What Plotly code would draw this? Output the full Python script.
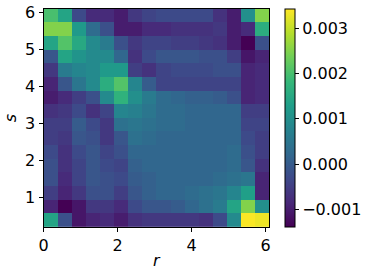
import plotly.graph_objects as go

W, H = 369, 275
row01 = [0.0014,-0.0002,-0.0011,-0.0009,-0.0008,-0.0010,-0.0007,-0.0006,-0.0006,-0.0006,-0.0006,-0.0007,-0.0003,0.0009,0.0034,0.0033]
row02 = [-0.0009,-0.00139,-0.0011,-0.0006,-0.0006,-0.0008,-0.0003,-0.0001,-0.0001,0.0,0.0002,0.0004,0.0006,0.0014,0.0025,0.0010]
row03 = [-0.0005,-0.0009,-0.0006,-0.0002,-0.0002,-0.0005,-0.0001,0.0001,0.0002,0.0002,0.0003,0.0004,0.0005,0.0008,0.0013,-0.0009]
row04 = [-0.0002,-0.0008,-0.0004,-0.0001,-0.0002,-0.0003,0.0,0.0001,0.0002,0.0002,0.0002,0.0002,0.0003,0.0004,0.0005,-0.0009]
row05 = [-0.0002,-0.0007,-0.0004,-0.0001,-0.0003,-0.0004,0.0001,0.0002,0.0002,0.0002,0.0002,0.0002,0.0002,0.0003,-0.0001,-0.0007]
row06 = [-0.0003,-0.0007,-0.0003,-0.0001,-0.0004,-0.0002,0.0002,0.0002,0.0002,0.0002,0.0002,0.0002,0.0002,0.0003,-0.0002,-0.0005]
row07 = [-0.0005,-0.0006,-0.0001,-0.0002,-0.0006,-0.0001,0.0004,0.0003,0.0002,0.0002,0.0002,0.0002,0.0002,0.0002,-0.0003,-0.0005]
row08 = [-0.0005,-0.0005,0.0,-0.0003,-0.0006,0.0004,0.0005,0.0004,0.0003,0.0003,0.0002,0.0002,0.0002,0.0002,-0.0004,-0.0004]
row09 = [-0.0007,-0.0006,-0.0003,-0.0007,-0.0004,0.0008,0.0007,0.0005,0.0003,0.0003,0.0002,0.0002,0.0002,0.0002,-0.0005,-0.0005]
row10 = [-0.0010,-0.0008,-0.0005,-0.0002,0.0009,0.0017,0.0010,0.0006,0.0003,0.0002,0.0001,0.0001,0.0,-0.0002,-0.0009,-0.0008]
row11 = [-0.0009,-0.0001,0.0005,0.0009,0.0016,0.0021,0.0008,0.0,-0.0004,-0.0004,-0.0004,-0.0004,-0.0004,-0.0004,-0.0009,-0.0008]
row12 = [-0.0006,0.0006,0.0008,0.0009,0.0012,0.0012,-0.0005,-0.0007,-0.0004,-0.0003,-0.0003,-0.0003,-0.0002,-0.0002,-0.0009,-0.0008]
row13 = [-0.0001,0.0014,0.0011,0.0009,0.0009,0.0002,-0.0007,-0.0003,-0.0001,-0.0001,-0.0001,-0.0002,-0.0002,-0.0005,-0.0011,-0.0009]
row14 = [0.0014,0.0021,0.0015,0.0009,0.0006,-0.0002,-0.0006,-0.0004,-0.0004,-0.0005,-0.0005,-0.0006,-0.0007,-0.0010,-0.00139,-0.0002]
row15 = [0.0025,0.0025,0.0012,0.0003,-0.0002,-0.0010,-0.0010,-0.0008,-0.0008,-0.0007,-0.0007,-0.0007,-0.0006,-0.0010,-0.0008,0.0016]
row16 = [0.0020,0.0014,-0.0003,-0.0008,-0.0008,-0.0010,-0.0006,-0.0004,-0.0003,-0.0003,-0.0003,-0.0003,-0.0007,-0.0010,0.0010,0.0025]
values = [row01,row02,row03,row04,row05,row06,row07,row08,row09,row10,row11,row12,row13,row14,row15,row16]

r_first = 0.19
s_first = 0.39
step_r = 0.381
step_s = 0.368
x_ticks = [0, 2, 4, 6]
y_ticks = [1, 2, 3, 4, 5, 6]
cbar_ticks = [-0.001, 0.0, 0.001, 0.002, 0.003]
z_min, z_max = -0.00139, 0.00342

FONT = "DejaVu Sans"
left, right, top, bottom = 43.5, 269, 9, 227

fig = go.Figure(go.Heatmap(
    z=values, x0=r_first, dx=step_r, y0=s_first, dy=step_s,
    colorscale="Viridis", zmin=z_min, zmax=z_max, zsmooth=False,
    colorbar=dict(
        x=285/W, xanchor="left", xref="paper", y=(H-bottom)/H, yanchor="bottom", yref="paper",
        len=(bottom-top)/H, lenmode="fraction", thickness=10, thicknessmode="pixels",
        outlinecolor="black", outlinewidth=1, tickvals=cbar_ticks, tickformat=".3f",
        ticks="outside", ticklen=4, tickwidth=1, tickcolor="black",
        tickfont=dict(family=FONT, size=16, color="black"), xpad=0, ypad=0,
    ),
))
fig.update_layout(
    width=W, height=H, autosize=False, paper_bgcolor="white", plot_bgcolor="white",
    margin=dict(l=0, r=0, t=0, b=0, pad=0, autoexpand=False), showlegend=False,
    font=dict(family=FONT, size=16, color="black"),
    xaxis=dict(domain=[left/W, right/W], range=[0, 6.09], tickvals=x_ticks, ticks="outside",
               ticklen=4, tickwidth=1, tickcolor="black", showgrid=False, zeroline=False,
               showline=True, linecolor="black", linewidth=1, mirror=True, anchor="y",
               title=dict(text="<i>r</i>", standoff=0, font=dict(size=16))),
    yaxis=dict(domain=[(H-bottom)/H, (H-top)/H], range=[0.205, 6.09], tickvals=y_ticks, ticks="outside",
               ticklen=4, tickwidth=1, tickcolor="black", showgrid=False, zeroline=False,
               showline=True, linecolor="black", linewidth=1, mirror=True, anchor="x",
               title=dict(text="<i>s</i>", standoff=4, font=dict(size=16))),
)
fig.write_html("out.html", config={"displayModeBar": False},
               post_script="document.body.style.margin='0';")
